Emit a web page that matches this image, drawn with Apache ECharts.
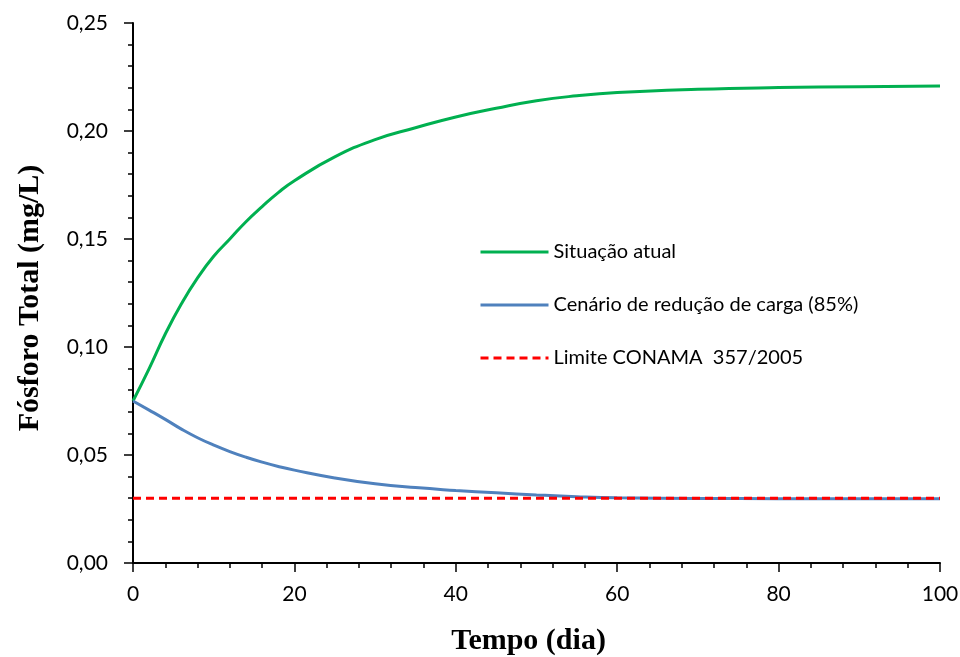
<!DOCTYPE html>
<html>
<head>
<meta charset="utf-8">
<script src="https://cdn.jsdelivr.net/npm/echarts@6/dist/echarts.min.js"></script>
<style>
  html, body { margin: 0; padding: 0; background: #fff; }
  #chart { width: 960px; height: 657px; }
</style>
</head>
<body>
<div id="chart"></div>
<script>
// dados
var dias = [0, 2, 4, 6, 8, 10, 12, 14, 16, 18, 20, 25, 30, 35, 40, 45, 50, 55, 60, 70, 80, 90, 100];
var situacaoAtual = [0.075, 0.090, 0.106, 0.120, 0.132, 0.142, 0.150, 0.158, 0.165, 0.1715, 0.177,
  0.188, 0.196, 0.2015, 0.2065, 0.2105, 0.214, 0.2163, 0.2178, 0.2193, 0.2201, 0.2205, 0.2208];
var cenarioReducao = [0.075, 0.0708, 0.0665, 0.062, 0.0580, 0.0546, 0.0516, 0.049, 0.0467, 0.0447, 0.043,
  0.0394, 0.0367, 0.0349, 0.0336, 0.0325, 0.0315, 0.0307, 0.0302, 0.0299, 0.0298, 0.0297, 0.0297];
var limiteDias = [0, 100];
var limiteConama = [0.03, 0.03];

function pares(xs, ys) {
  return xs.map(function (x, i) { return [x, ys[i]]; });
}

var chart = echarts.init(document.getElementById('chart'));
var fonte = 'Lato';

var option = {
  animation: false,
  grid: { left: 133, right: 20, top: 23, bottom: 94, outerBoundsMode: 'none' },
  legend: {
    orient: 'vertical',
    left: 474,
    top: 237,
    itemWidth: 68,
    itemHeight: 14,
    itemGap: 33,
    itemStyle: { opacity: 0 },
    lineStyle: { width: 3 },
    textStyle: { fontFamily: fonte, fontSize: 20, color: '#000' },
    data: ['Situação atual', 'Cenário de redução de carga (85%)', 'Limite CONAMA  357/2005']
  },
  xAxis: {
    type: 'value',
    min: 0,
    max: 100,
    interval: 20,
    name: 'Tempo (dia)',
    nameLocation: 'middle',
    nameGap: 63,
    nameTextStyle: {
      fontFamily: 'Liberation Serif', fontWeight: 'bold', fontSize: 30, color: '#000',
      padding: [0, 16, 0, 0]
    },
    axisLine: { lineStyle: { color: '#000', width: 2 } },
    axisTick: { length: 9, lineStyle: { color: '#000', width: 1.5 } },
    minorTick: { show: true, splitNumber: 5, length: 5, lineStyle: { color: '#000', width: 1.5 } },
    splitLine: { show: false },
    axisLabel: { fontFamily: fonte, fontSize: 21, color: '#000', margin: 21 }
  },
  yAxis: {
    type: 'value',
    min: 0,
    max: 0.25,
    interval: 0.05,
    name: 'Fósforo Total (mg/L)',
    nameLocation: 'middle',
    nameGap: 88,
    nameTextStyle: {
      fontFamily: 'Liberation Serif', fontWeight: 'bold', fontSize: 30, color: '#000',
      padding: [0, 10, 0, 0]
    },
    axisLine: { show: true, lineStyle: { color: '#000', width: 2 } },
    axisTick: { show: true, length: 9, lineStyle: { color: '#000', width: 1.5 } },
    minorTick: { show: true, splitNumber: 5, length: 5, lineStyle: { color: '#000', width: 1.5 } },
    splitLine: { show: false },
    axisLabel: {
      fontFamily: fonte, fontSize: 21, color: '#000', margin: 25,
      formatter: function (v) { return v.toFixed(2).replace('.', ','); }
    }
  },
  series: [
    {
      name: 'Situação atual',
      type: 'line',
      smooth: true,
      symbol: 'none',
      data: pares(dias, situacaoAtual),
      itemStyle: { color: '#00B050' },
      lineStyle: { color: '#00B050', width: 3 }
    },
    {
      name: 'Cenário de redução de carga (85%)',
      type: 'line',
      smooth: true,
      symbol: 'none',
      data: pares(dias, cenarioReducao),
      itemStyle: { color: '#4F81BD' },
      lineStyle: { color: '#4F81BD', width: 3 }
    },
    {
      name: 'Limite CONAMA  357/2005',
      type: 'line',
      symbol: 'none',
      data: pares(limiteDias, limiteConama),
      itemStyle: { color: '#FF0000' },
      lineStyle: { color: '#FF0000', width: 3, type: [8, 5] },
      z: 3
    }
  ]
};

chart.setOption(option);
</script>
</body>
</html>
